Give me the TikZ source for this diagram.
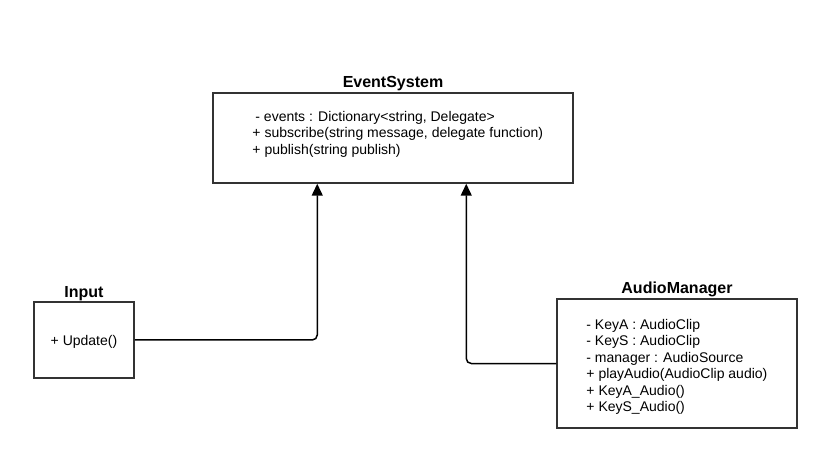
\documentclass[tikz,border=0pt]{standalone}
\usepackage{fontspec}
\setmainfont{Liberation Sans}
\usetikzlibrary{positioning,arrows.meta}
\tikzstyle{cls}=[draw=black!80, line width=1.5pt, inner sep=0pt]
\tikzstyle{ttl}=[font=\fontsize{16}{18}\selectfont\bfseries, inner sep=0pt]
\tikzstyle{attr}=[font=\fontsize{14}{16.5}\selectfont, align=left, inner sep=0pt]
\tikzstyle{conn}=[->, line width=1.5pt, rounded corners=5pt]

\begin{document}
\begin{tikzpicture}[x=1pt,y=-1pt,>={Triangle[length=12pt,width=11pt]}]
\useasboundingbox (0,0) rectangle (820,449);

% EventSystem
\node[cls, minimum width=360, minimum height=90] at (393,138) (es) {};
\node[ttl, above=4.5pt of es.north, anchor=base] (estitle) {EventSystem};
\node[attr, below right=18.5pt and 40pt of es.north west] (esattr) {\hspace{3pt}- events : Dictionary<string, Delegate>\\
+ subscribe(string message, delegate function)\\
+ publish(string publish)};

% Input
\node[cls, minimum width=100, minimum height=76] at (84,340) (inp) {};
\node[attr] at (84,342) (inpattr) {+ Update()};
\node[ttl, above=3.5pt of inp.north, anchor=base] (inptitle) {Input};

% AudioManager
\node[cls, minimum width=240, minimum height=129] at (677,363.5) (am) {};
\node[ttl, above=4.5pt of am.north, anchor=base] (amtitle) {AudioManager};
\node[attr, below right=20.5pt and 30pt of am.north west] (amattr) {- KeyA : AudioClip\\
- KeyS : AudioClip\\
- manager : AudioSource\\
+ playAudio(AudioClip audio)\\
+ KeyA\_Audio()\\
+ KeyS\_Audio()};

\draw[conn] (inp.east) -| ([xshift=105pt]es.south west);
\draw[conn] (am.west) -| ([xshift=254pt]es.south west);
\end{tikzpicture}
\end{document}
